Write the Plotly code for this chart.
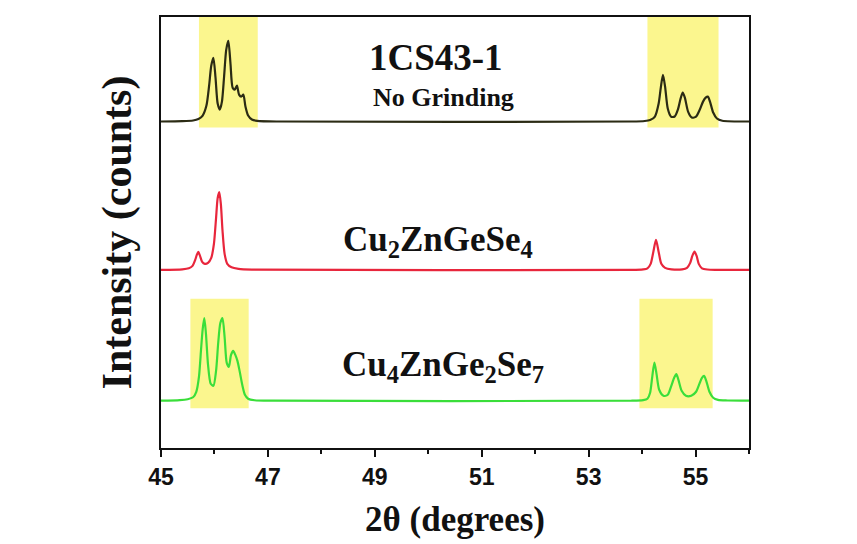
import plotly.graph_objects as go

# ---- XRD patterns (2-theta in degrees, intensity above each pattern's baseline) ----
two_theta_1cs = [45.00, 45.40, 45.60, 45.70, 45.78, 45.85, 45.90, 45.94, 45.98, 46.02,
                 46.06, 46.10, 46.14, 46.18, 46.22, 46.26, 46.30, 46.34, 46.38, 46.42,
                 46.46, 46.50, 46.54, 46.58, 46.63, 46.70, 46.80, 47.20, 53.80, 54.05,
                 54.15, 54.24, 54.31, 54.35, 54.39, 54.43, 54.48, 54.54, 54.61, 54.67,
                 54.72, 54.76, 54.80, 54.86, 54.93, 55.01, 55.08, 55.14, 55.19, 55.23,
                 55.27, 55.33, 55.40, 55.50, 56.00]
counts_1cs = [0, 0.3, 1, 2.5, 6, 16, 36, 56, 64, 44,
              18, 12, 20, 45, 72, 81, 58, 34, 32, 36,
              27, 25, 27, 15, 6, 2, 0.7, 0, 0, 0.5,
              1.5, 5, 18, 34, 47, 35, 13, 5, 5, 12,
              23, 29, 24, 10, 4, 5, 12, 20, 24, 25,
              20, 9, 3, 0.8, 0]

two_theta_czgs = [45.00, 45.40, 45.52, 45.59, 45.64, 45.67, 45.70, 45.73, 45.77, 45.82,
                  45.88, 45.94, 45.99, 46.03, 46.06, 46.09, 46.12, 46.15, 46.19, 46.24,
                  46.32, 46.45, 46.70, 53.80, 54.02, 54.10, 54.16, 54.21, 54.26, 54.31,
                  54.36, 54.43, 54.55, 54.75, 54.84, 54.90, 54.94, 54.98, 55.02, 55.06,
                  55.12, 55.22, 55.40, 56.00]
counts_czgs = [0, 0.5, 1.5, 4, 10, 15, 18, 14, 8, 6,
               7, 12, 26, 52, 72, 78, 66, 40, 16, 6,
               2.5, 1, 0.3, 0, 0.5, 1.5, 6, 18, 30, 18,
               6, 2, 0.5, 0.5, 2, 7, 14, 18.4, 14, 6,
               1.5, 0.3, 0, 0]

two_theta_c4zg2s = [45.00, 45.35, 45.50, 45.60, 45.66, 45.71, 45.75, 45.78, 45.81, 45.84,
                    45.88, 45.93, 45.98, 46.03, 46.07, 46.11, 46.15, 46.19, 46.23, 46.27,
                    46.31, 46.35, 46.39, 46.43, 46.47, 46.52, 46.57, 46.63, 46.75, 47.10,
                    53.80, 54.02, 54.10, 54.15, 54.19, 54.23, 54.27, 54.32, 54.40, 54.48,
                    54.54, 54.60, 54.64, 54.68, 54.74, 54.82, 54.92, 55.01, 55.08, 55.12,
                    55.16, 55.20, 55.26, 55.33, 55.42, 55.60, 56.00]
counts_c4zg2s = [0, 0.5, 1.5, 3.5, 9, 24, 52, 72, 83, 68,
                 36, 17, 15, 30, 58, 78, 83, 64, 38, 34,
                 46, 50, 46, 40, 30, 16, 6, 2, 0.5, 0,
                 0, 0.6, 2, 8, 24, 38.4, 27, 11, 5, 6,
                 14, 23, 26.7, 21, 10, 5, 5, 9, 18, 23,
                 25, 20, 9, 3, 0.8, 0.2, 0]

tick_values = [45, 47, 49, 51, 53, 55]
tick_labels = ["45", "47", "49", "51", "53", "55"]

# vertical stacking of the three patterns
OFFSET_1CS = 328
OFFSET_CZGS = 179
OFFSET_C4ZG2S = 47.5

# highlighted 2-theta windows: (x0, x1, y0, y1)
HIGHLIGHTS = [
    (45.71, 46.81, 322, 433),
    (54.10, 55.43, 322, 433),
    (45.55, 46.64, 40, 150),
    (53.95, 55.32, 40, 150),
]

fig = go.Figure()

for x0, x1, y0, y1 in HIGHLIGHTS:
    fig.add_shape(type="rect", xref="x", yref="y", x0=x0, x1=x1, y0=y0, y1=y1,
                  fillcolor="#fbf68e", line=dict(width=0), layer="below")

series = [
    (two_theta_1cs, counts_1cs, OFFSET_1CS, "#2b2b14", "1CS43-1"),
    (two_theta_czgs, counts_czgs, OFFSET_CZGS, "#e8263c", "Cu2ZnGeSe4"),
    (two_theta_c4zg2s, counts_c4zg2s, OFFSET_C4ZG2S, "#3ade3a", "Cu4ZnGe2Se7"),
]
for xs, ys, off, color, name in series:
    fig.add_trace(go.Scatter(
        x=xs, y=[v + off for v in ys], mode="lines", name=name,
        line=dict(color=color, width=2.2, shape="spline", smoothing=0.7),
        showlegend=False, hoverinfo="skip",
    ))

serif = "Liberation Serif, Times New Roman, serif"
labels = [
    ("1CS43-1", 50.15, 392, 37),
    ("No Grinding", 50.28, 352, 26),
    ("Cu<sub>2</sub>ZnGeSe<sub>4</sub>", 50.19, 207, 35),
    ("Cu<sub>4</sub>ZnGe<sub>2</sub>Se<sub>7</sub>", 50.27, 82, 35),
]
for text, x, y, size in labels:
    fig.add_annotation(x=x, y=y, xref="x", yref="y", text="<b>" + text + "</b>",
                       showarrow=False, font=dict(family=serif, size=size, color="#111111"))

fig.update_layout(
    width=857, height=544,
    margin=dict(l=161, r=108, t=17, b=94),
    paper_bgcolor="white", plot_bgcolor="white",
    xaxis=dict(
        range=[45, 56], tickvals=tick_values, ticktext=tick_labels,
        ticks="outside", ticklen=7, tickwidth=2, tickcolor="#111111",
        minor=dict(dtick=1, tick0=45, ticks="outside", ticklen=4, tickwidth=2, tickcolor="#111111"),
        showline=True, linewidth=2, linecolor="#111111", mirror=True,
        showgrid=False, zeroline=False,
        tickfont=dict(family="Liberation Sans, Arial, sans-serif", size=23, color="#111111", weight="bold"),
        title=dict(text="<b>2θ (degrees)</b>", font=dict(family=serif, size=35, color="#111111"), standoff=18),
    ),
    yaxis=dict(
        range=[0, 433], showticklabels=False, ticks="",
        showline=True, linewidth=2, linecolor="#111111", mirror=True,
        showgrid=False, zeroline=False,
        title=dict(text="<b>Intensity (counts)</b>", font=dict(family=serif, size=42, color="#111111"), standoff=14),
    ),
)

fig.write_html("out.html")
